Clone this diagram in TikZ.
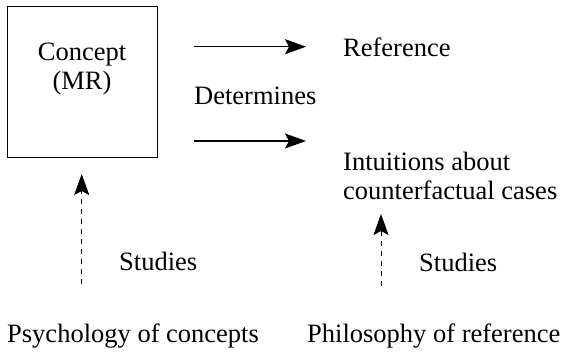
\documentclass[tikz,border=0pt]{standalone}
\usepackage{fontspec}
\setmainfont{Liberation Serif}
\usetikzlibrary{arrows.meta,positioning}
\tikzset{
  conceptbox/.style = {draw, line width=1pt, minimum width=150pt, minimum height=151pt,
                       inner sep=0pt},
  txt/.style        = {anchor=base west, inner sep=0pt, align=left},
  detarrow/.style   = {-{Stealth[length=21pt,width=15pt,inset=4pt]}, line width=1.2pt},
  studyarrow/.style = {detarrow, line width=1pt, dash pattern=on 5pt off 5pt},
}
\begin{document}
\begin{tikzpicture}[x=1pt,y=-1pt,font=\fontsize{26.5}{29}\selectfont]
  \useasboundingbox (0,0) rectangle (565,352);
  % the concept
  \node[conceptbox] (concept) at (82,82.5) {};
  \node[txt,align=center,anchor=base] (conceptname) at (82,90) {Concept\\(MR)};
  % what it determines
  \node[txt] (reference) at (343,56.7) {Reference};
  \node[txt] (determines) at (194,105) {Determines};
  \node[txt] (intuitions) at (343,200) {Intuitions about\\counterfactual cases};
  \coordinate (refstart) at (194,46.7);
  \coordinate (refend) at (306,46.7);
  \coordinate (intstart) at (194,141);
  \coordinate (intend) at (306,141);
  \draw[detarrow] (refstart) -- (refend);
  \draw[detarrow] (intstart) -- (intend);
  % the disciplines
  \node[txt] (psychology) at (7,343) {Psychology of concepts};
  \node[txt] (philosophy) at (307,343) {Philosophy of reference};
  \node[txt] (studiesleft) at (119,271) {Studies};
  \node[txt] (studiesright) at (419,272) {Studies};
  \coordinate (psychtop) at (81.7,284);
  \coordinate (psychtip) at (81.7,174);
  \coordinate (philotop) at (381,286);
  \coordinate (philotip) at (381,214);
  \draw[studyarrow] (psychtop) -- (psychtip);
  \draw[studyarrow] (philotop) -- (philotip);
\end{tikzpicture}
\end{document}
